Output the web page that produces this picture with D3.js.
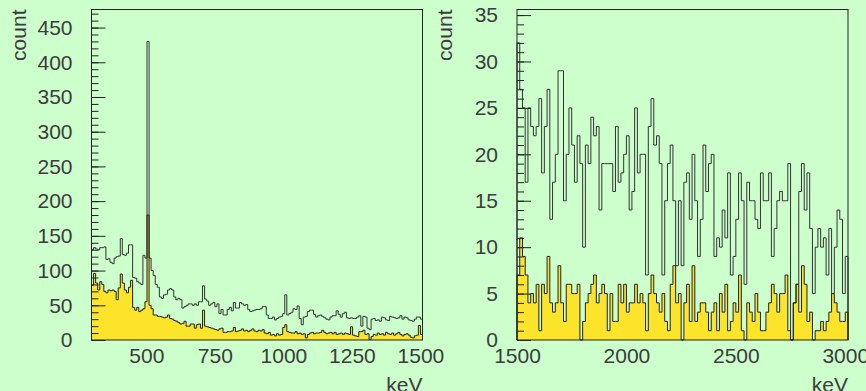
<!DOCTYPE html>
<html>
<head>
<meta charset="utf-8">
<script src="https://cdn.jsdelivr.net/npm/d3@7"></script>
<style>
  html, body { margin: 0; padding: 0; background: #ccffcc; }
  svg { display: block; }
  text { font-family: "Liberation Sans", Arial, sans-serif; fill: #3c3c3c; }
</style>
</head>
<body>
<svg id="chart" width="866" height="391"></svg>
<script>
// ---- Low-energy window: 300 - 1507.5 keV, 7.5 keV bins ----
const lowBinStart = 300;
const lowBinWidth = 7.5;
const lowTotal = [
  130,133,131,130,133,133,134,116,117,112,110,118,120,121,146,123,122,125,137,137,
  90,89,84,82,80,122,118,430,118,100,93,80,76,62,60,65,66,72,74,72,
  62,58,60,58,46,48,50,52,52,50,52,50,55,55,78,59,56,50,52,54,
  48,52,38,44,36,36,44,47,42,54,46,46,54,52,50,51,44,41,42,43,
  44,44,45,48,48,36,31,31,33,29,31,33,34,38,65,36,38,40,45,44,
  49,31,22,33,34,41,43,43,37,33,35,36,34,32,30,29,33,35,35,42,
  37,33,38,40,32,31,32,31,31,33,35,20,34,33,17,15,30,31,28,29,
  27,33,32,29,28,34,33,32,31,32,35,30,33,32,29,28,27,30,33,33,
  30
];
const lowSelected = [
  79,96,82,72,84,80,70,68,72,71,72,70,58,75,95,82,72,68,76,86,
  47,43,47,41,43,45,55,180,50,45,36,36,34,34,33,32,33,36,31,30,
  28,27,25,23,24,27,20,20,23,23,17,22,23,17,43,20,19,18,17,16,
  15,14,16,17,11,11,12,12,13,18,12,13,14,16,13,14,12,14,16,13,
  12,14,13,15,10,9,11,7,8,6,9,7,8,18,22,12,11,10,10,12,
  9,10,8,9,3,8,10,11,9,10,10,11,14,11,9,10,11,9,11,8,
  9,10,8,10,9,8,19,7,6,5,12,12,14,8,9,1,5,8,7,10,
  8,9,7,11,9,8,10,7,9,11,8,6,8,9,7,4,3,6,7,21,
  8
];
const lowXTicks = [500, 750, 1000, 1250, 1500];
const lowYTicks = [0, 50, 100, 150, 200, 250, 300, 350, 400, 450];
const lowYMinorStep = 10;
const lowYMax = 476;

// ---- High-energy window: 1500 - 3012.5 keV, 12.5 keV bins ----
const highBinStart = 1500;
const highBinWidth = 12.5;
const highTotal = [
  32,27,25,17,25,23,22,23,26,18,23,27,13,17,20,29,29,15,20,25,
  21,17,22,19,10,21,19,24,22,23,14,19,19,19,19,16,23,17,18,20,
  22,14,16,25,18,20,20,7,23,26,21,22,19,7,15,19,21,15,8,15,
  8,17,18,13,20,15,9,13,21,16,19,20,9,11,10,14,11,18,7,9,
  13,18,15,6,17,15,15,13,12,18,15,15,18,9,12,15,16,15,15,19,
  0,4,6,16,19,14,18,12,5,10,12,10,11,7,12,5,10,14,13,5,
  9
];
const highSelected = [
  7,11,9,7,4,5,4,6,1,6,5,9,4,3,4,8,4,2,6,6,
  5,5,6,0,2,4,5,6,7,4,5,6,5,1,5,2,2,6,4,6,
  3,4,4,6,4,5,4,1,5,7,5,4,3,5,2,1,6,8,4,5,
  0,4,6,2,8,2,3,4,4,3,1,3,4,1,5,3,6,1,2,4,
  3,7,1,0,4,3,2,5,3,1,1,3,4,6,5,3,5,5,7,1,
  0,4,6,3,8,6,2,3,0,1,1,2,1,2,3,5,4,3,2,2,
  3
];
const highXTicks = [1500, 2000, 2500, 3000];
const highYTicks = [0, 5, 10, 15, 20, 25, 30, 35];
const highYMinorStep = 1;
const highYMax = 35.6;

const yTitle = "count";
const xTitle = "keV";

const svg = d3.select("#chart");
const plainInt = d3.format("d");

// Step outline of a histogram: one horizontal run per bin
function histPoints(values, start, width) {
  const pts = [[start, 0]];
  values.forEach((v, i) => {
    pts.push([start + i * width, v]);
    pts.push([start + (i + 1) * width, v]);
  });
  pts.push([start + values.length * width, 0]);
  return pts;
}

function drawPanel(cfg) {
  const { left, right, top, bottom } = cfg.box;
  const nBins = cfg.total.length;
  const xMax = cfg.binStart + nBins * cfg.binWidth;

  const x = d3.scaleLinear().domain([cfg.binStart, xMax]).range([left, right]);
  const y = d3.scaleLinear().domain([0, cfg.yMax]).range([bottom, top]);

  const g = svg.append("g");

  const selPts = histPoints(cfg.selected, cfg.binStart, cfg.binWidth);
  const totPts = histPoints(cfg.total, cfg.binStart, cfg.binWidth);

  // filled (selected) histogram
  g.append("path")
    .attr("d", d3.area().x(d => x(d[0])).y0(y(0)).y1(d => y(d[1]))(selPts))
    .attr("fill", "#fbe42a")
    .attr("stroke", "none");

  // total histogram outline
  g.append("path")
    .attr("d", d3.line().x(d => x(d[0])).y(d => y(d[1]))(totPts))
    .attr("fill", "none")
    .attr("stroke", "#333")
    .attr("stroke-width", 1);

  // selected histogram outline
  g.append("path")
    .attr("d", d3.line().x(d => x(d[0])).y(d => y(d[1]))(selPts))
    .attr("fill", "none")
    .attr("stroke", "#222")
    .attr("stroke-width", 1);

  // minor y ticks (inward)
  const minor = d3.range(0, cfg.yMax + 1e-9, cfg.yMinorStep);
  g.append("g")
    .attr("transform", `translate(${left},0)`)
    .call(d3.axisLeft(y).tickValues(minor).tickSizeInner(-7).tickSizeOuter(0).tickFormat(""))
    .call(a => a.select(".domain").remove())
    .call(a => a.selectAll("line").attr("stroke", "#222"));

  // major y ticks with labels
  g.append("g")
    .attr("transform", `translate(${left},0)`)
    .call(d3.axisLeft(y).tickValues(cfg.yTicks).tickFormat(plainInt)
      .tickSizeInner(-14).tickSizeOuter(0).tickPadding(19))
    .call(a => a.select(".domain").remove())
    .call(a => a.selectAll("line").attr("stroke", "#222"))
    .call(a => a.selectAll("text").attr("font-size", 21).attr("fill", "#3c3c3c")
      .attr("font-family", '"Liberation Sans", Arial, sans-serif'));

  // x labels
  g.append("g")
    .attr("transform", `translate(0,${bottom})`)
    .call(d3.axisBottom(x).tickValues(cfg.xTicks).tickFormat(plainInt).tickSize(0).tickPadding(8))
    .call(a => a.select(".domain").remove())
    .call(a => a.selectAll("text").attr("font-size", 21).attr("fill", "#3c3c3c")
      .attr("font-family", '"Liberation Sans", Arial, sans-serif'));

  // frame
  g.append("rect")
    .attr("x", left).attr("y", top)
    .attr("width", right - left).attr("height", bottom - top)
    .attr("fill", "none").attr("stroke", "#222").attr("stroke-width", 1);

  // axis titles
  g.append("text")
    .attr("transform", `translate(${cfg.yTitleX},${top}) rotate(-90)`)
    .attr("text-anchor", "end")
    .attr("font-size", 21)
    .text(yTitle);

  g.append("text")
    .attr("x", right).attr("y", 392)
    .attr("text-anchor", "end")
    .attr("font-size", 21)
    .text(xTitle);
}

drawPanel({
  box: { left: 91.5, right: 422.5, top: 9.5, bottom: 340 },
  binStart: lowBinStart, binWidth: lowBinWidth,
  total: lowTotal, selected: lowSelected,
  xTicks: lowXTicks, yTicks: lowYTicks, yMinorStep: lowYMinorStep, yMax: lowYMax,
  yTitleX: 26
});

drawPanel({
  box: { left: 517, right: 848, top: 9.5, bottom: 340 },
  binStart: highBinStart, binWidth: highBinWidth,
  total: highTotal, selected: highSelected,
  xTicks: highXTicks, yTicks: highYTicks, yMinorStep: highYMinorStep, yMax: highYMax,
  yTitleX: 452
});
</script>
</body>
</html>
